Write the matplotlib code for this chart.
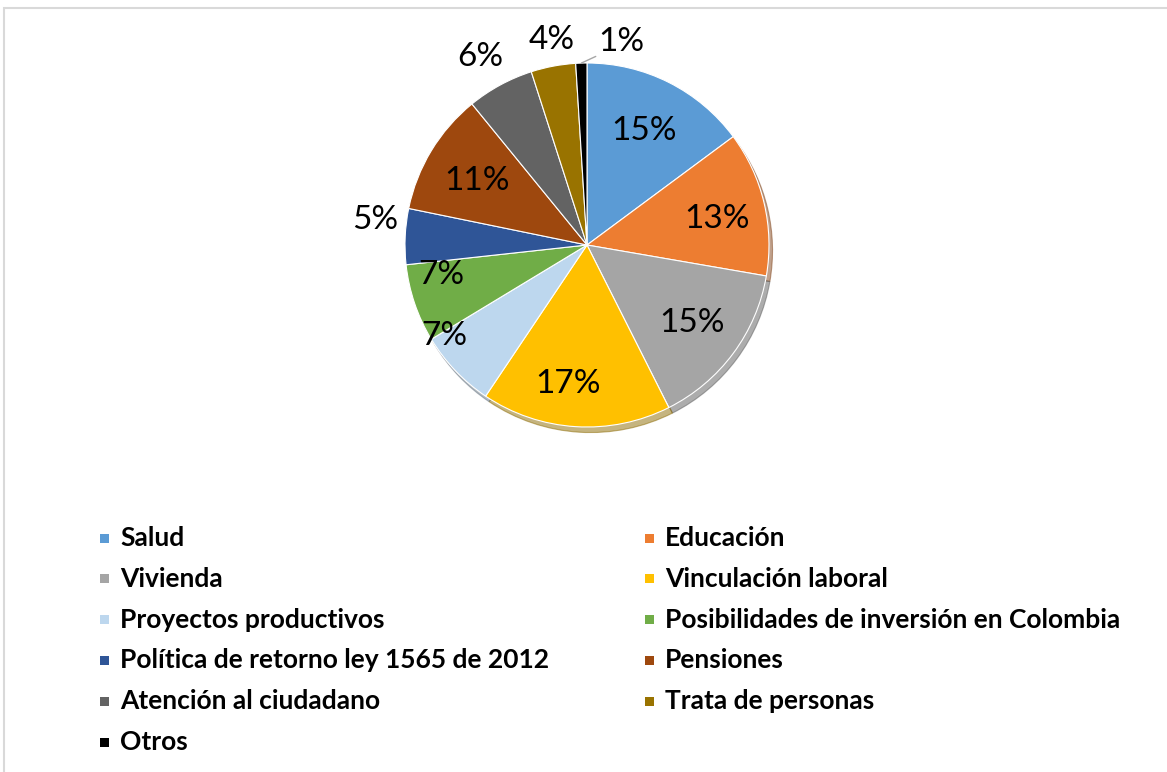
import matplotlib
matplotlib.use('Agg')
import matplotlib.pyplot as plt
import numpy as np
from matplotlib.patches import Rectangle

categories = ['Salud', 'Educación', 'Vivienda', 'Vinculación laboral',
              'Proyectos productivos', 'Posibilidades de inversión en Colombia',
              'Política de retorno ley 1565 de 2012', 'Pensiones',
              'Atención al ciudadano', 'Trata de personas', 'Otros']
values = [15, 13, 15, 17, 7, 7, 5, 11, 6, 4, 1]
colors = ['#5B9BD5', '#ED7D31', '#A5A5A5', '#FFC000', '#BDD7EE', '#70AD47',
          '#2F5597', '#9E480E', '#636363', '#997300', '#000000']

# label placement styles (radius in pie units, angular tweak in degrees)
label_r = [0.70, 0.73, 0.72, 0.77, 0.93, 0.82, 1.17, 0.70, 1.19, 1.14, None]
label_da = [0, -2, 0, -4, -11, -7, -4, 1, 1, -1, 0]

W, H = 1167, 772
fig = plt.figure(figsize=(W / 100, H / 100), dpi=100)

# border
fig.patches.append(Rectangle((4 / W, -0.1), 1.2, (H - 8) / H + 0.1,
                             transform=fig.transFigure, fill=False,
                             edgecolor='#D9D9D9', linewidth=1.5))

cx, cy, R = 587, 245, 182
size = 2.2 * R
ax = fig.add_axes([(cx - size / 2) / W, (H - cy - size / 2) / H, size / W, size / H])
wedges, _ = ax.pie(values, colors=colors, startangle=90, counterclock=False,
                   radius=1, wedgeprops=dict(edgecolor='white', linewidth=0.8),
                   shadow={'ox': 0.014, 'oy': -0.022, 'shade': 0.45})
ax.set_xlim(-1.1, 1.1)
ax.set_ylim(-1.1, 1.1)
ax.set_aspect('equal')
ax.axis('off')

total = sum(values)
pfont = dict(family=['Lato', 'DejaVu Sans'], fontsize=24, color='black')
for i, w in enumerate(wedges):
    mid = (w.theta1 + w.theta2) / 2
    lab = f'{values[i] / total * 100:.0f}%'
    if label_r[i] is None:
        a = np.deg2rad(mid)
        ax.annotate(lab, xy=(np.cos(a), np.sin(a)), xytext=(0.19, 1.115),
                    ha='center', va='center', **pfont,
                    arrowprops=dict(arrowstyle='-', color='#A6A6A6', lw=1,
                                    shrinkA=0, shrinkB=0, relpos=(0.05, 0.1)))
        continue
    a = np.deg2rad(mid + label_da[i])
    ax.text(label_r[i] * np.cos(a), label_r[i] * np.sin(a), lab,
            ha='center', va='center', **pfont)

# legend (two columns, row-major)
row0, dy = 538, 40.8
col_marker = [100, 645]
col_text = [120, 665]
ms = 9
for i, (cat, col) in enumerate(zip(categories, colors)):
    r, c = divmod(i, 2)
    y = row0 + r * dy
    fig.patches.append(Rectangle((col_marker[c] / W, (H - y - ms / 2) / H), ms / W, ms / H,
                                 transform=fig.transFigure, facecolor=col, edgecolor='none'))
    fig.text(col_text[c] / W, (H - y) / H, cat, ha='left', va='center',
             family=['Lato', 'DejaVu Sans'], fontweight='bold', fontsize=19, color='black')

fig.savefig('out.png', dpi=100)
